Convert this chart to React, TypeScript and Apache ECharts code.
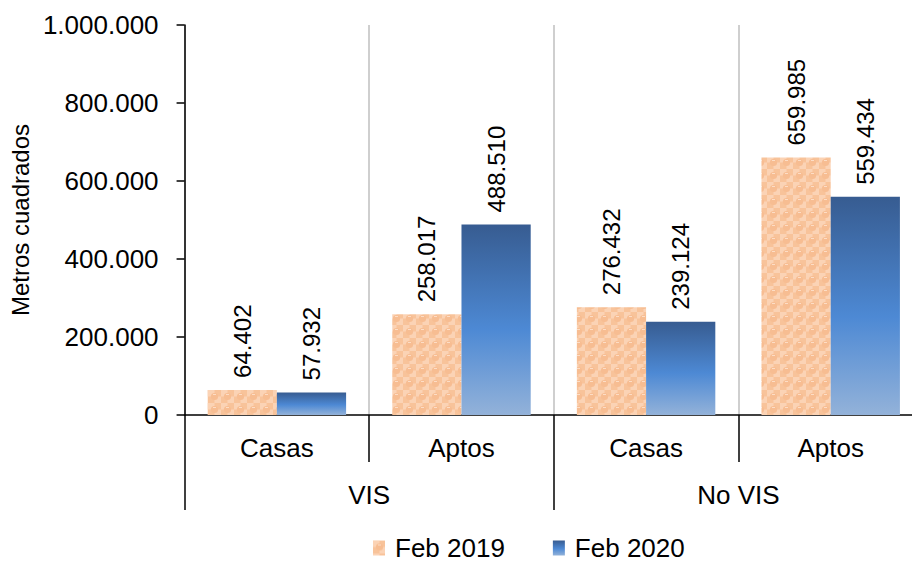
import React, { useEffect, useRef } from "react";
import * as echarts from "echarts";

// Categories, groups and values
const tipos = ["Casas", "Aptos", "Casas", "Aptos"];
const grupos = ["VIS", "No VIS"];
const feb2019 = [64402, 258017, 276432, 659985];
const feb2020 = [57932, 488510, 239124, 559434];
const seriesNames = ["Feb 2019", "Feb 2020"];
const yTicks = { min: 0, max: 1000000, interval: 200000 };

const FONT = "'Liberation Sans', Arial, sans-serif";

const miles = (v: number) => String(Math.round(v)).replace(/\B(?=(\d{3})+(?!\d))/g, ".");

// Orange checker tile with soft dots for the 2019 bars
function makeTile(): HTMLCanvasElement {
  const s = 13;
  const c = document.createElement("canvas");
  c.width = s;
  c.height = s;
  const ctx = c.getContext("2d")!;
  ctx.fillStyle = "#F8C39A";
  ctx.fillRect(0, 0, s, s);
  ctx.fillStyle = "#FBD3B5";
  ctx.fillRect(0, 0, s / 2, s / 2);
  ctx.fillRect(s / 2, s / 2, s / 2, s / 2);
  ctx.fillStyle = "#F7BD92";
  ctx.beginPath();
  ctx.arc(s / 2, s / 2, 3.6, 0, Math.PI * 2);
  ctx.fill();
  ctx.fillStyle = "rgba(255,235,220,0.7)";
  ctx.fillRect(s / 2 - 1.5, s / 2 - 2.5, 3, 1);
  return c;
}

export default function App() {
  const ref = useRef<HTMLDivElement>(null);

  useEffect(() => {
    document.body.style.margin = "0";
    if (!ref.current) return;
    const chart = echarts.init(ref.current, null, { renderer: "svg" });

    const orange = { image: makeTile(), repeat: "repeat" } as any;
    const blue = new echarts.graphic.LinearGradient(0, 0, 0, 1, [
      { offset: 0, color: "#375C91" },
      { offset: 0.55, color: "#4D89D4" },
      { offset: 1, color: "#93B2D9" },
    ]);

    const label = {
      show: true,
      position: "top",
      rotate: 90,
      align: "left",
      verticalAlign: "middle",
      distance: 12,
      fontSize: 24,
      color: "#000",
      fontFamily: FONT,
      formatter: (p: any) => miles(p.value),
    };

    chart.setOption({
      animation: false,
      textStyle: { fontFamily: FONT, color: "#000" },
      // the plot runs a little past the visible right edge
      grid: { left: 183, right: 7, top: 25, bottom: 147, containLabel: false },
      legend: {
        data: seriesNames,
        left: 373,
        top: 535,
        padding: 0,
        itemWidth: 12,
        itemHeight: 15,
        itemGap: 48,
        icon: "rect",
        textStyle: { fontSize: 26, color: "#000", fontFamily: FONT, padding: [0, 0, 0, 5] },
      },
      xAxis: [
        {
          type: "category",
          data: tipos,
          axisLine: { show: true, lineStyle: { color: "#000", width: 1.5 } },
          axisTick: { show: true, length: 47, interval: 0, lineStyle: { color: "#000", width: 1.5 } },
          axisLabel: { fontSize: 26, color: "#000", margin: 20, interval: 0, fontFamily: FONT },
          splitLine: { show: true, interval: 0, lineStyle: { color: "#BFBFBF", width: 1.5 } },
        },
        {
          type: "category",
          data: grupos,
          position: "bottom",
          offset: 47,
          axisLine: { show: false },
          axisTick: { show: true, length: 48, interval: 0, lineStyle: { color: "#000", width: 1.5 } },
          axisLabel: { fontSize: 26, color: "#000", margin: 20, interval: 0, fontFamily: FONT },
          splitLine: { show: false },
        },
      ],
      yAxis: {
        type: "value",
        min: yTicks.min,
        max: yTicks.max,
        interval: yTicks.interval,
        name: "Metros cuadrados",
        nameLocation: "middle",
        nameGap: 148,
        nameTextStyle: { fontSize: 24, color: "#000", fontFamily: FONT },
        axisLine: { show: true, lineStyle: { color: "#000", width: 1.5 } },
        axisTick: { show: true, length: 8, lineStyle: { color: "#000", width: 1.5 } },
        axisLabel: { fontSize: 26, color: "#000", margin: 26, formatter: miles, fontFamily: FONT },
        splitLine: { show: false },
      },
      series: [
        {
          name: seriesNames[0],
          type: "bar",
          xAxisIndex: 0,
          data: feb2019,
          barGap: "0%",
          barCategoryGap: "25%",
          itemStyle: { color: orange },
          label,
        },
        {
          name: seriesNames[1],
          type: "bar",
          xAxisIndex: 0,
          data: feb2020,
          barGap: "0%",
          barCategoryGap: "25%",
          itemStyle: { color: blue },
          label,
        },
      ],
    });

    return () => chart.dispose();
  }, []);

  return (
    <div style={{ width: 912, height: 562, overflow: "hidden" }}>
      <div ref={ref} style={{ width: 930, height: 562 }} />
    </div>
  );
}
